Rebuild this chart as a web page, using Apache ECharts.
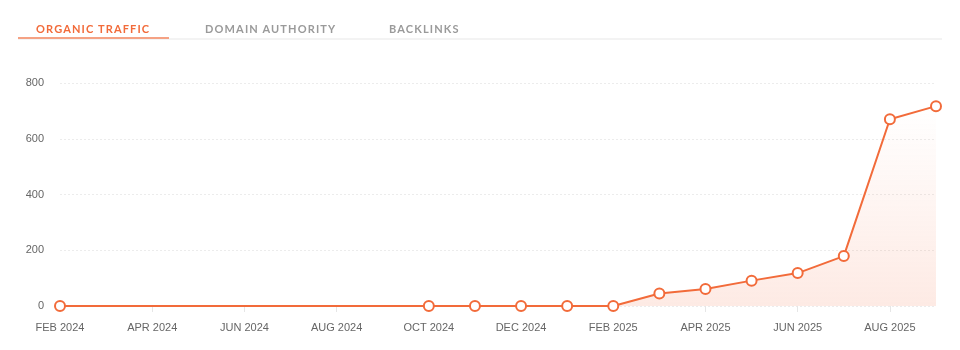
<!DOCTYPE html>
<html>
<head>
<meta charset="utf-8">
<script src="https://cdn.jsdelivr.net/npm/echarts@6/dist/echarts.min.js"></script>
<style>
  html, body { margin: 0; padding: 0; background: #fff; }
  #wrap { position: relative; width: 960px; height: 350px; overflow: hidden; }
  #tabs { position: absolute; left: 18px; top: 22px; width: 924px; height: 16px; border-bottom: 2px solid #f3f3f3; }
  .tab { position: absolute; top: 0; font-family: "Lato", "Open Sans", sans-serif; font-weight: 700; font-size: 11px; letter-spacing: 1.15px; color: #9a9a9a; line-height: 14px; white-space: nowrap; }
  .tab.active { color: #f26b3a; }
  #underline { position: absolute; left: 18px; top: 37px; width: 151px; height: 2px; background: #f5a284; }
  #chart { position: absolute; left: 0; top: 0; width: 960px; height: 350px; }
</style>
</head>
<body>
<div id="wrap">
  <div id="chart"></div>
  <div id="tabs">
    <span class="tab active" style="left:18px">ORGANIC TRAFFIC</span>
    <span class="tab" style="left:187px">DOMAIN AUTHORITY</span>
    <span class="tab" style="left:371px">BACKLINKS</span>
  </div>
  <div id="underline"></div>
</div>
<script>
// Monthly categories, Feb 2024 through Sep 2025
const months = [
  'FEB 2024', 'MAR 2024', 'APR 2024', 'MAY 2024', 'JUN 2024', 'JUL 2024',
  'AUG 2024', 'SEP 2024', 'OCT 2024', 'NOV 2024', 'DEC 2024', 'JAN 2025',
  'FEB 2025', 'MAR 2025', 'APR 2025', 'MAY 2025', 'JUN 2025', 'JUL 2025',
  'AUG 2025', 'SEP 2025'
];
// Organic traffic per month ('-' = no measurement that month)
const traffic = [
  0, '-', '-', '-', '-', '-',
  '-', '-', 0, 0, 0, 0,
  0, 45, 61, 91, 118, 179,
  670, 717
];
const yTicks = [0, 200, 400, 600, 800];

const chart = echarts.init(document.getElementById('chart'), null, { renderer: 'canvas' });
chart.setOption({
  animation: false,
  grid: { left: 60, right: 24, top: 83, bottom: 44, containLabel: false },
  xAxis: {
    type: 'category',
    data: months,
    boundaryGap: false,
    axisLine: { show: false },
    axisTick: { show: true, interval: 1, length: 6, lineStyle: { color: '#e6e6e6' } },
    axisLabel: {
      interval: 1, color: '#666', fontSize: 11,
      fontFamily: '"Liberation Sans", Arial, sans-serif', margin: 16
    },
    splitLine: { show: false }
  },
  yAxis: {
    type: 'value',
    min: yTicks[0],
    max: yTicks[yTicks.length - 1],
    interval: 200,
    axisLine: { show: false },
    axisTick: { show: false },
    axisLabel: {
      color: '#666', fontSize: 11, margin: 16,
      fontFamily: '"Liberation Sans", Arial, sans-serif'
    },
    splitLine: { lineStyle: { color: '#ececec', type: [2, 2] } }
  },
  series: [{
    type: 'line',
    data: traffic,
    connectNulls: true,
    symbol: 'circle',
    symbolSize: 10,
    showAllSymbol: true,
    lineStyle: { color: '#f26b3a', width: 2 },
    itemStyle: { color: '#fff', borderColor: '#f26b3a', borderWidth: 2 },
    areaStyle: {
      color: new echarts.graphic.LinearGradient(0, 0, 0, 1, [
        { offset: 0, color: 'rgba(245,120,80,0.0)' },
        { offset: 1, color: 'rgba(245,120,80,0.22)' }
      ])
    }
  }]
});
</script>
</body>
</html>
